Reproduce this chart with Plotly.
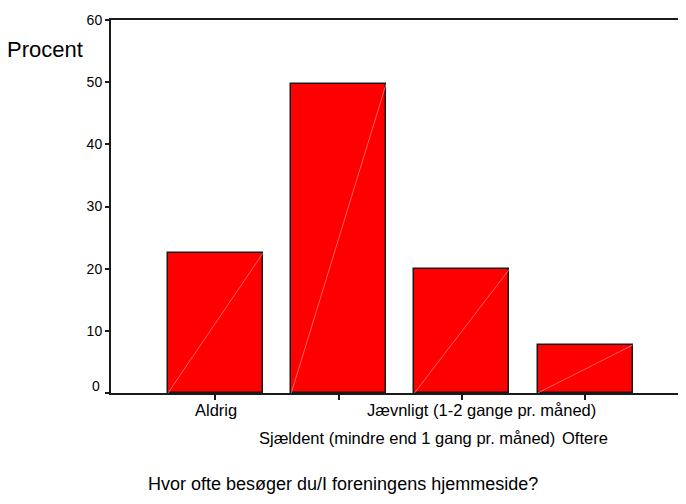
import plotly.graph_objects as go

categories = ["Aldrig", "Sjældent (mindre end 1 gang pr. måned)",
              "Jævnligt (1-2 gange pr. måned)", "Oftere"]
percent = [22.5, 49.7, 19.9, 7.7]
y_ticks = [0, 10, 20, 30, 40, 50, 60]
title_text = "Hvor ofte besøger du/I foreningens hjemmeside?"
y_label = "Procent"

FONT = "Liberation Sans, Arial, sans-serif"
BAR_W = 0.77
xs = list(range(len(categories)))

fig = go.Figure()
fig.add_trace(go.Bar(
    x=xs, y=percent, width=BAR_W,
    marker=dict(color="#ff0000", line=dict(color="#1a1a1a", width=1.5)),
    hoverinfo="skip",
))

# faint diagonal line inside each bar (bottom-left to top-right)
for xi, v in zip(xs, percent):
    fig.add_shape(type="line", xref="x", yref="y",
                  x0=xi - BAR_W / 2, y0=0, x1=xi + BAR_W / 2, y1=v,
                  line=dict(color="rgba(255,170,170,0.85)", width=0.7),
                  layer="above")

# staggered category labels
label_rows = [0, 1, 0, 1]
label_shift = [1, 68, 19.5, 0]
row_y = [-0.046, -0.121]
for xi, lab, r, s in zip(xs, categories, label_rows, label_shift):
    fig.add_annotation(x=xi, y=row_y[r], xref="x", yref="paper",
                       text=lab, showarrow=False, xanchor="center",
                       yanchor="middle", xshift=s,
                       font=dict(family=FONT, size=16.5, color="black"))

# y tick labels: the bottom one sits slightly above its tick
y_ticktext = ["" if t == y_ticks[0] else str(t) for t in y_ticks]
fig.add_annotation(x=0, y=y_ticks[0], xref="paper", yref="y",
                   text=str(y_ticks[0]), showarrow=False, xanchor="right",
                   yanchor="middle", xshift=-9, yshift=7,
                   font=dict(family=FONT, size=14, color="black"))

fig.add_annotation(x=-0.114, y=0.922, xref="paper", yref="paper",
                   text=y_label, showarrow=False, xanchor="center",
                   yanchor="middle",
                   font=dict(family=FONT, size=22, color="black"))
fig.add_annotation(x=0.404, y=-0.244, xref="paper", yref="paper",
                   text=title_text, showarrow=False, xanchor="center",
                   yanchor="middle",
                   font=dict(family=FONT, size=18, color="black"))

fig.update_layout(
    width=678, height=496,
    margin=dict(l=103, r=0, t=12, b=111),
    paper_bgcolor="white", plot_bgcolor="white",
    showlegend=False,
    bargap=0,
    xaxis=dict(range=[-0.848, 3.819], tickvals=xs, showticklabels=False,
               ticks="outside", ticklen=5, tickwidth=1.5, tickcolor="#1a1a1a",
               showline=True, linecolor="#1a1a1a", linewidth=2, mirror=True,
               showgrid=False, zeroline=False, fixedrange=True),
    yaxis=dict(range=[0, 60], tickvals=y_ticks, ticktext=y_ticktext,
               ticks="outside", ticklen=4,
               tickwidth=1.5, tickcolor="#1a1a1a",
               tickfont=dict(family=FONT, size=14, color="black"),
               showline=True, linecolor="#1a1a1a", linewidth=2,
               showgrid=False, zeroline=False, fixedrange=True),
)

fig.write_html("out.html")
